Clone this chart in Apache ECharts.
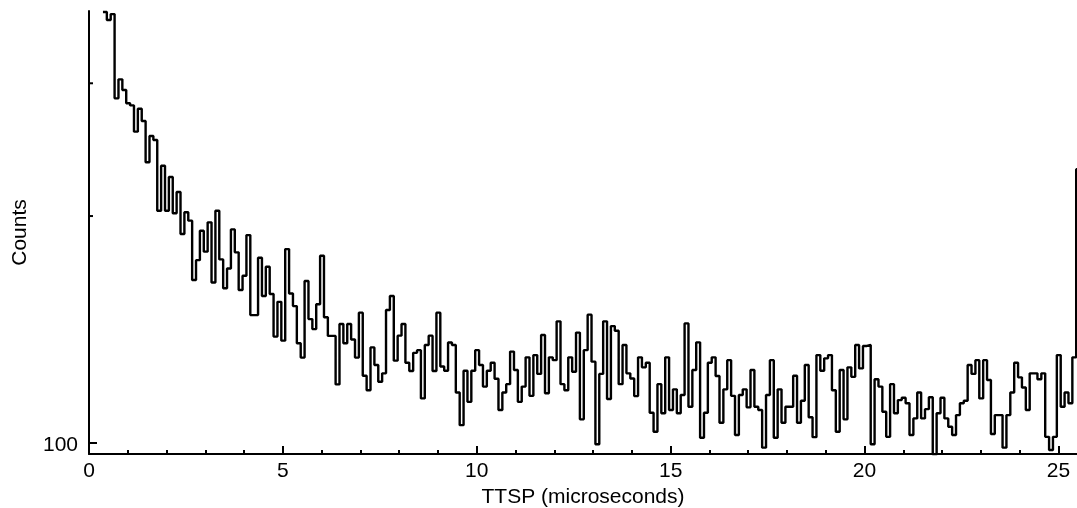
<!DOCTYPE html>
<html><head><meta charset="utf-8">
<script src="https://cdn.jsdelivr.net/npm/echarts@6/dist/echarts.min.js"></script>
<style>html,body{margin:0;padding:0;background:#fff}#c{width:1077px;height:508px}</style>
</head><body><div id="c"></div>
<script>
// Histogram of TTSP: bins of 0.1 microseconds, first bin starting at 0.36
const binStart = 0.36;
const binWidth = 0.1;
const counts = [
  373, 364, 370.6, 286.5, 303.6, 293.9, 282.2, 280.4, 258.8, 277.6,
  267.4, 235.7, 255.4, 252.3, 203.3, 233.2, 203.3, 225.3, 201.7, 215.2,
  189.3, 202.3, 197.2, 164.5, 174.8, 191.2, 179.4, 196.2, 163.3, 203.3,
  175.2, 160.4, 170.4, 192.0, 179.0, 159.6, 166.7, 188.7, 147.8, 147.8,
  176.1, 156.7, 171.3, 157.6, 138.4, 153.9, 136.7, 180.8, 157.9, 151.9,
  135.6, 129.8, 164.0, 146.0, 141.6, 152.8, 177.2, 146.8, 138.7, 138.7,
  119.6, 143.8, 135.6, 143.8, 137.2, 129.8, 148.9, 122.8, 117.5, 133.9,
  126.9, 120.6, 123.7, 150.1, 156.7, 128.6, 138.8, 143.8, 127.8, 124.6,
  131.7, 132.8, 114.6, 134.9, 138.8, 124.6, 148.9, 126.3, 124.7, 135.9,
  134.9, 116.7, 105.6, 124.7, 113.4, 124.7, 132.8, 126.9, 118.8, 124.7,
  127.8, 121.7, 110.6, 116.7, 119.7, 132.2, 125.0, 113.4, 118.8, 129.9,
  115.5, 130.8, 123.5, 139.1, 116.4, 129.9, 128.8, 145.0, 119.7, 117.5,
  129.9, 124.3, 140.1, 107.5, 132.8, 148.0, 128.2, 99.6, 123.5, 145.0,
  114.4, 142.9, 140.9, 119.7, 134.9, 123.7, 121.8, 115.4, 129.9, 126.0,
  127.8, 109.7, 103.5, 119.7, 109.5, 129.9, 110.6, 117.8, 109.5, 115.8,
  144.1, 111.7, 125.0, 136.0, 101.6, 109.7, 127.8, 129.9, 122.7, 106.4,
  117.8, 128.8, 115.5, 102.5, 115.8, 117.8, 111.5, 125.0, 111.7, 110.6,
  98.6, 115.8, 128.8, 101.6, 117.8, 106.4, 111.7, 111.7, 122.8, 106.4,
  113.8, 126.9, 108.2, 101.8, 130.8, 124.7, 129.5, 130.8, 117.5, 103.5,
  125.0, 107.5, 126.0, 122.4, 134.9, 125.6, 134.5, 134.9, 99.6, 121.5,
  118.8, 110.0, 101.9, 119.7, 109.5, 114.0, 114.8, 112.9, 102.5, 107.8,
  116.7, 107.8, 110.9, 115.0, 96.5, 109.5, 114.8, 107.8, 105.1, 102.5,
  108.9, 112.9, 113.8, 126.9, 123.5, 128.8, 114.6, 128.8, 121.2, 102.8,
  108.9, 108.9, 98.6, 108.9, 116.7, 127.8, 122.2, 118.5, 110.6, 123.7,
  123.7, 121.5, 123.7, 101.9, 97.9, 101.9, 130.8, 111.7, 116.7, 112.9,
  129.9, 230.8
];
const xMajorTicks = [0, 5, 10, 15, 20, 25];
const xMinorTicks = [1, 2, 3, 4, 6, 7, 8, 9, 11, 12, 13, 14, 16, 17, 18, 19, 21, 22, 23, 24];
const yMajorTicks = [100];
const yMinorTicks = [200, 300];
const xRange = [0, 25.48];
const yRange = [96.7, 374.1];
const xTitle = 'TTSP (microseconds)';
const yTitle = 'Counts';

const points = counts.map((v, i) => [+(binStart + i * binWidth).toFixed(3), v]);
points.push([+(binStart + counts.length * binWidth).toFixed(3), counts[counts.length - 1]]);

const FONT = '"Liberation Sans", Arial, Helvetica, sans-serif';
const chart = echarts.init(document.getElementById('c'), null, { renderer: 'canvas' });
chart.setOption({
  animation: false,
  backgroundColor: '#fff',
  grid: { left: 89, right: 0, top: 11, bottom: 54, containLabel: false, outerBoundsMode: 'none' },
  xAxis: [{
    type: 'value', min: xRange[0], max: xRange[1], position: 'bottom',
    axisLine: { show: true, lineStyle: { color: '#000', width: 2 } },
    axisTick: { show: true, inside: true, length: 8, customValues: xMajorTicks, lineStyle: { color: '#000', width: 2 } },
    axisLabel: { show: true, customValues: xMajorTicks, color: '#000', fontSize: 21, fontFamily: FONT, margin: 7 },
    splitLine: { show: false },
    name: xTitle, nameLocation: 'middle', nameGap: 23,
    nameTextStyle: { color: '#000', fontSize: 21, fontFamily: FONT }
  }, {
    type: 'value', min: xRange[0], max: xRange[1], position: 'bottom', offset: 0,
    axisLine: { show: false },
    axisTick: { show: true, inside: true, length: 4, customValues: xMinorTicks, lineStyle: { color: '#000', width: 2 } },
    axisLabel: { show: false },
    splitLine: { show: false }
  }],
  yAxis: {
    type: 'log', logBase: 10, min: yRange[0], max: yRange[1],
    axisLine: { show: true, lineStyle: { color: '#000', width: 2 } },
    axisTick: { show: false },
    axisLabel: { show: false },
    splitLine: { show: false },
    name: yTitle, nameLocation: 'middle', nameGap: 58, nameRotate: 90,
    nameTextStyle: { color: '#000', fontSize: 21, fontFamily: FONT }
  },
  series: [{
    type: 'line', step: 'end', data: points, xAxisIndex: 0, yAxisIndex: 0,
    showSymbol: false, symbol: 'none', clip: true,
    lineStyle: { color: '#000', width: 2.4 }
  }]
});

// y-axis ticks placed through the log axis scale
const gx = chart.convertToPixel({ xAxisIndex: 0 }, xRange[0]);
const graphics = [];
yMajorTicks.forEach(v => {
  const py = chart.convertToPixel({ yAxisIndex: 0 }, v);
  graphics.push({ type: 'line', shape: { x1: gx, y1: py, x2: gx + 8, y2: py }, style: { stroke: '#000', lineWidth: 2 }, z: 10 });
  graphics.push({ type: 'text', x: gx - 11, y: py + 2, style: { text: String(v), fill: '#000', font: '21px ' + FONT, align: 'right', verticalAlign: 'middle' }, z: 10 });
});
yMinorTicks.forEach(v => {
  const py = chart.convertToPixel({ yAxisIndex: 0 }, v);
  graphics.push({ type: 'line', shape: { x1: gx, y1: py, x2: gx + 4, y2: py }, style: { stroke: '#000', lineWidth: 2 }, z: 10 });
});
chart.setOption({ graphic: graphics });
</script>
</body></html>
